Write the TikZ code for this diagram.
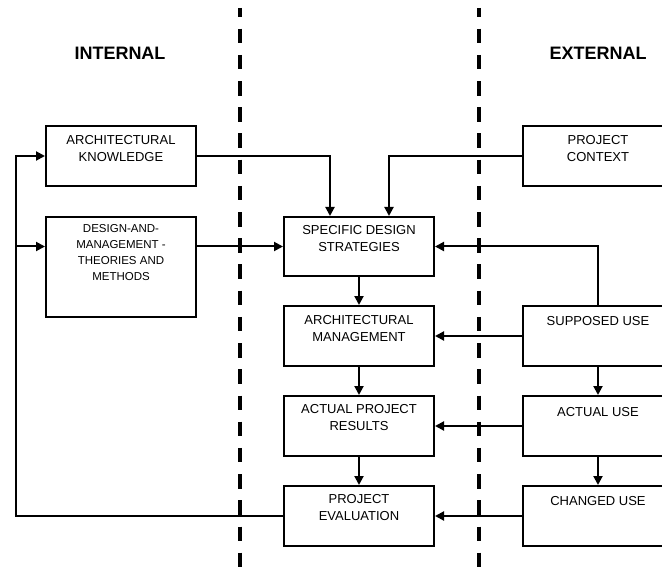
\documentclass[tikz,border=0pt]{standalone}
\usepackage{fontspec}
\setmainfont{Liberation Sans}
\usetikzlibrary{arrows.meta}
\begin{document}
\begin{tikzpicture}[x=1pt,y=-1pt,
  box/.style={draw, line width=2pt, minimum width=150pt, minimum height=60pt,
    inner sep=0pt, anchor=north west},
  lbl/.style={anchor=north, inner sep=0pt, align=center,
    font=\fontsize{13}{17}\selectfont},
  smalllbl/.style={anchor=north, inner sep=0pt, align=center,
    font=\fontsize{11.5}{16}\selectfont},
  heading/.style={inner sep=0pt, font=\fontsize{18}{22}\selectfont\bfseries},
  conn/.style={line width=2pt},
  arr/.style={conn, -{Triangle[length=9pt,width=9pt]}},
  divider/.style={line width=4pt, dash pattern=on 14.5pt off 11.7pt, dash phase=5.5pt}]

\path[use as bounding box] (0,0) rectangle (662,567);
\clip (0,0) rectangle (662,567);

% zone dividers and headings
\draw[divider] (240,8) -- (240,567);
\draw[divider] (479,8) -- (479,567);
\node[heading] (internal) at (120,53) {INTERNAL};
\node[heading] (external) at (598,53) {EXTERNAL};

% internal column
\node[box] (ak) at (45,125) {};
\node[lbl] (ak-t) at ([yshift=-10pt]ak.north) {ARCHITECTURAL\\KNOWLEDGE};
\node[box, minimum height=100pt] (dm) at (45,216) {};
\node[smalllbl] (dm-t) at ([yshift=-8pt]dm.north) {DESIGN-AND-\\MANAGEMENT -\\THEORIES AND\\METHODS};

% middle column
\node[box, minimum height=59pt] (sds) at (283,216) {};
\node[lbl] (sds-t) at ([yshift=-9pt]sds.north) {SPECIFIC DESIGN\\STRATEGIES};
\node[box] (am) at (283,305) {};
\node[lbl] (am-t) at ([yshift=-10pt]am.north) {ARCHITECTURAL\\MANAGEMENT};
\node[box] (apr) at (283,395) {};
\node[lbl] (apr-t) at ([yshift=-9.5pt]apr.north) {ACTUAL PROJECT\\RESULTS};
\node[box] (pe) at (283,485) {};
\node[lbl] (pe-t) at ([yshift=-9.5pt]pe.north) {PROJECT\\EVALUATION};

% external column
\node[box] (pc) at (522,125) {};
\node[lbl] (pc-t) at ([yshift=-10pt]pc.north) {PROJECT\\CONTEXT};
\node[box] (su) at (522,305) {};
\node[lbl] (su-t) at ([yshift=-11pt]su.north) {SUPPOSED USE};
\node[box] (au) at (522,395) {};
\node[lbl] (au-t) at ([yshift=-12pt]au.north) {ACTUAL USE};
\node[box] (cu) at (522,485) {};
\node[lbl] (cu-t) at ([yshift=-11pt]cu.north) {CHANGED USE};

% feedback loop from evaluation back to the internal inputs
\coordinate (fbx) at (16,0);
\draw[arr] (pe.west) -- (pe.west -| fbx) |- (ak.west);
\draw[arr] (fbx |- sds.west) -- (dm.west |- sds.west);

% inputs to the design strategies
\draw[arr] (dm.east |- sds.west) -- (sds.west);
\draw[arr] (ak.east) -| ([xshift=-29pt]sds.north);
\draw[arr] (pc.west) -| ([xshift=30pt]sds.north);
\draw[arr] (su.north) |- (sds.east);

% main chain
\draw[arr] (sds) -- (am);
\draw[arr] (am) -- (apr);
\draw[arr] (apr) -- (pe);

% use chain
\draw[arr] (su) -- (au);
\draw[arr] (au) -- (cu);
\draw[arr] (su.west) -- (am.east);
\draw[arr] (au.west) -- (apr.east);
\draw[arr] (cu.west) -- (pe.east);
\end{tikzpicture}
\end{document}
